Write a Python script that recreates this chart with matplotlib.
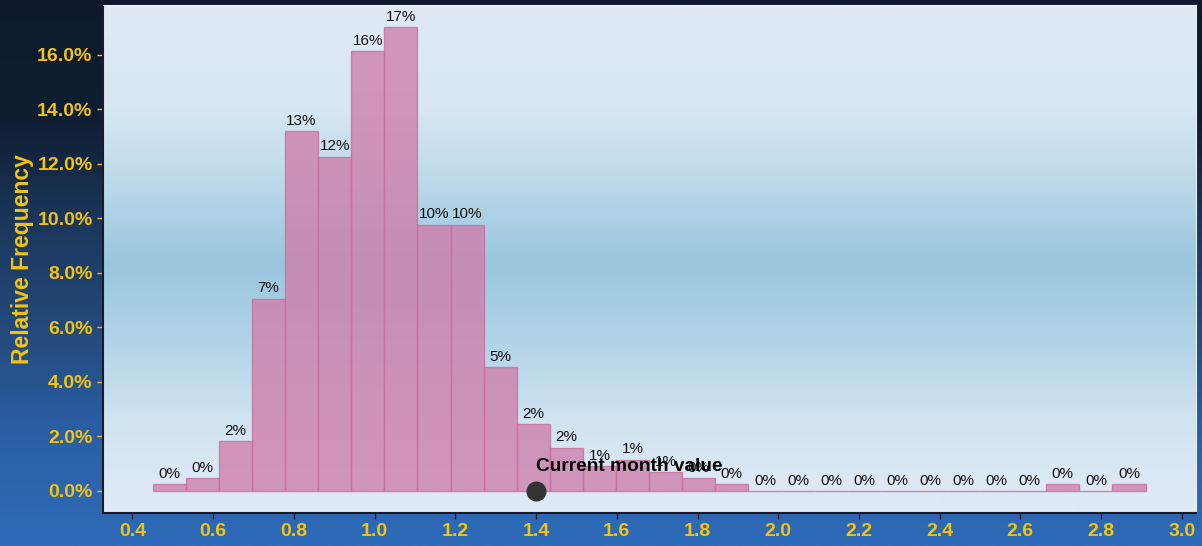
import numpy as np
import matplotlib
matplotlib.use("Agg")
import matplotlib.pyplot as plt
from matplotlib.colors import LinearSegmentedColormap

plt.rcParams["font.family"] = ["Liberation Sans", "DejaVu Sans"]

# ---- data ----
bin_start = 0.45
bin_width = 0.082
rel_freq = [0.25, 0.48, 1.83, 7.05, 13.2, 12.26, 16.12, 17.02, 9.76, 9.76,
            4.55, 2.45, 1.59, 0.91, 1.15, 0.70, 0.48, 0.25, 0.0, 0.0,
            0.0, 0.0, 0.0, 0.0, 0.0, 0.0, 0.0, 0.25, 0.0, 0.25]
current_value = 1.4
current_label = "Current month value"
x_ticks = [0.4, 0.6, 0.8, 1.0, 1.2, 1.4, 1.6, 1.8, 2.0, 2.2, 2.4, 2.6, 2.8, 3.0]
y_ticks = [0, 2, 4, 6, 8, 10, 12, 14, 16]
y_label = "Relative Frequency"

YELLOW = "#f2c40f"

fig = plt.figure(figsize=(12.02, 5.46), dpi=100)

# figure background gradient
bg = fig.add_axes([0, 0, 1, 1], zorder=-10)
fig_cmap = LinearSegmentedColormap.from_list(
    "figbg", [(0.0, "#0e1a2c"), (0.22, "#101e33"), (0.40, "#1b365a"),
              (0.60, "#24497a"), (0.78, "#2a5ea3"), (1.0, "#2e6bb9")])
grad = np.linspace(0, 1, 256).reshape(-1, 1)
bg.imshow(grad, aspect="auto", cmap=fig_cmap, extent=[0, 1, 0, 1], origin="upper")
bg.set_axis_off()

ax = fig.add_axes([0.0857, 0.0604, 0.995 - 0.0857, 0.9914 - 0.0604])
xlim = (0.327, 3.035)
ylim = (-0.81, 17.83)

ax_cmap = LinearSegmentedColormap.from_list(
    "axbg", [(0.0, "#dfeaf5"), (0.20, "#d8e7f3"), (0.35, "#bcd9ea"),
             (0.51, "#99c6dd"), (0.68, "#b5d5e8"), (0.82, "#d0e3f1"),
             (0.95, "#dde9f5"), (1.0, "#dde9f5")])
ax.imshow(grad, aspect="auto", cmap=ax_cmap,
          extent=[xlim[0], xlim[1], ylim[0], ylim[1]], origin="upper", zorder=0)

lefts = [bin_start + i * bin_width for i in range(len(rel_freq))]
ax.bar(lefts, rel_freq, width=bin_width, align="edge", color="#cf7fad",
       alpha=0.8, edgecolor="#c96fa0", linewidth=1.0, zorder=2)

for l, h in zip(lefts, rel_freq):
    ax.text(l + bin_width / 2, h + 0.12, f"{h:.0f}%", ha="center", va="bottom",
            fontsize=11, color="#111111", zorder=4)

ax.scatter([current_value], [0], s=180, color="#333333", zorder=5)
ax.text(current_value, 0.73, current_label, ha="left", va="baseline",
        fontsize=13.8, fontweight="bold", color="black", zorder=6)

ax.set_xlim(*xlim)
ax.set_ylim(*ylim)
ax.set_xticks(x_ticks)
ax.set_xticklabels([f"{v:.1f}" for v in x_ticks])
ax.set_yticks(y_ticks)
ax.set_yticklabels([f"{v:.1f}%" for v in y_ticks])
ax.tick_params(axis="both", colors=YELLOW, labelsize=14, length=4, width=1)
ax.tick_params(axis="x", colors="#1a1a2e", labelcolor=YELLOW)
for lab in ax.get_xticklabels() + ax.get_yticklabels():
    lab.set_fontweight("bold")
ax.set_ylabel(y_label, color=YELLOW, fontsize=16.5, fontweight="bold", labelpad=2)

ax.spines["left"].set_color("#1a1a2e")
ax.spines["bottom"].set_color("#1a1a2e")
ax.spines["left"].set_linewidth(1.5)
ax.spines["bottom"].set_linewidth(1.5)
ax.spines["top"].set_color("#e8f0f8")
ax.spines["right"].set_color("#e8f0f8")

fig.savefig("out.png", dpi=100)
